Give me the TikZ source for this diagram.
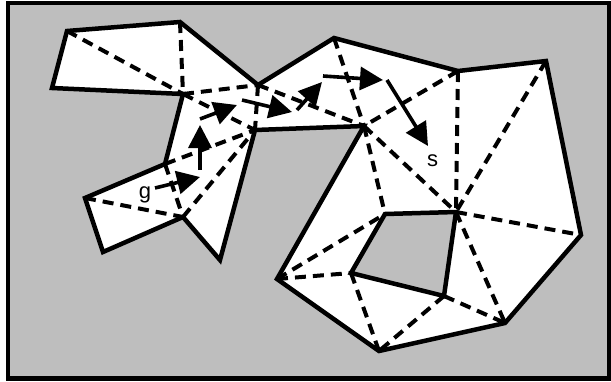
\documentclass[tikz,border=0pt]{standalone}
\usepackage{fontspec}
\setmainfont{Liberation Sans}
\usetikzlibrary{arrows.meta}
\definecolor{floor}{RGB}{190,190,190}

\begin{document}
\begin{tikzpicture}[
  x=1pt, y=-1pt,
  wall/.style={line width=4.5pt, line join=miter},
  diag/.style={line width=4pt, dash pattern=on 11pt off 7pt},
  hop/.style={line width=3.6pt, -{Triangle[length=23pt, width=23pt]}},
  lbl/.style={inner sep=0pt, font=\fontsize{22}{26}\selectfont}
]
\useasboundingbox (0,0) rectangle (611,381);
\filldraw[wall, fill=floor] (8,3) rectangle (609,378.5);

\coordinate (a) at (67,31);
\coordinate (b) at (180,22);
\coordinate (c) at (258,85);
\coordinate (d) at (334,38);
\coordinate (e) at (458,71);
\coordinate (f) at (546,61);
\coordinate (gg) at (581,235);
\coordinate (h) at (505,323);
\coordinate (i) at (379,351);
\coordinate (j) at (277,279);
\coordinate (k) at (364,126);
\coordinate (l) at (255,130);
\coordinate (m) at (220,260);
\coordinate (n) at (183,217);
\coordinate (o) at (103,252);
\coordinate (p) at (85,198);
\coordinate (q) at (165,164);
\coordinate (r) at (183,94);
\coordinate (s) at (52,88);
\coordinate (h1) at (385,214);
\coordinate (h2) at (456,212);
\coordinate (h3) at (444,296);
\coordinate (h4) at (351,273);

\filldraw[wall, fill=white] (a) -- (b) -- (c) -- (d) -- (e) -- (f) -- (gg) -- (h) -- (i) -- (j)
  -- (k) -- (l) -- (m) -- (n) -- (o) -- (p) -- (q) -- (r) -- (s) -- cycle;
\filldraw[wall, fill=floor] (h1) -- (h2) -- (h3) -- (h4) -- cycle;

\draw[diag] (a) -- (r);
\draw[diag] (b) -- (r);
\draw[diag] (r) -- (c);
\draw[diag] (r) -- (l);
\draw[diag] (c) -- (l);
\draw[diag] (q) -- (l);
\draw[diag] (n) -- (l);
\draw[diag] (q) -- (n);
\draw[diag] (p) -- (n);
\draw[diag] (c) -- (k);
\draw[diag] (d) -- (k);
\draw[diag] (e) -- (k);
\draw[diag] (e) -- (h2);
\draw[diag] (f) -- (h2);
\draw[diag] (k) -- (h2);
\draw[diag] (k) -- (h1);
\draw[diag] (h2) -- (gg);
\draw[diag] (h2) -- (h);
\draw[diag] (h3) -- (h);
\draw[diag] (h3) -- (i);
\draw[diag] (h4) -- (i);
\draw[diag] (j) -- (h4);
\draw[diag] (j) -- (h1);

\coordinate (w0) at (155,188);
\coordinate (w1) at (200,177);
\coordinate (w2) at (200,170);
\coordinate (w3) at (200,125);
\coordinate (w4) at (200,119);
\coordinate (w5) at (237,105);
\coordinate (w6) at (242,100);
\coordinate (w7) at (292,112);
\coordinate (w8) at (297,110);
\coordinate (w9) at (322,82);
\coordinate (w10) at (323,76);
\coordinate (w11) at (383,80);
\coordinate (w12) at (387,80);
\coordinate (w13) at (428,146);

\draw[hop] (w0) -- (w1);
\draw[hop] (w2) -- (w3);
\draw[hop] (w4) -- (w5);
\draw[hop] (w6) -- (w7);
\draw[hop] (w8) -- (w9);
\draw[hop] (w10) -- (w11);
\draw[hop] (w12) -- (w13);

\node[lbl] (goal) at (145,195) {g};
\node[lbl] (start) at (432.5,161) {s};
\end{tikzpicture}
\end{document}
